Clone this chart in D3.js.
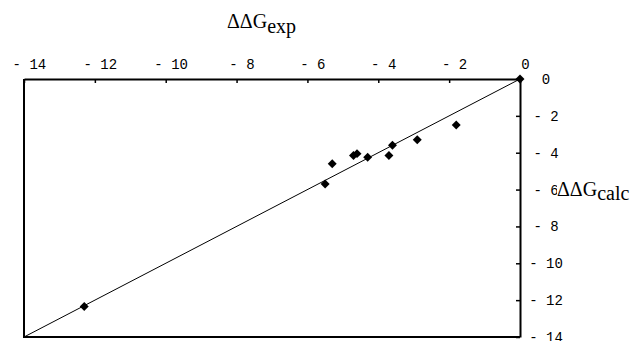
<!DOCTYPE html>
<html lang="en">
<head>
    <meta charset="UTF-8">
    <title>ddG calc vs exp</title>
    <style>
        body, html {
            margin: 0;
            background-color: #fff;
        }
        svg { display: block; }
        .tick text { font-family: "Liberation Mono", monospace; font-size: 14px; fill: #000; }
        .ttl { font-family: "Liberation Serif", "Times New Roman", serif; font-size: 20px; fill: #000; }
    </style>
</head>
<body>
    <script src="https://d3js.org/d3.v7.min.js"></script>
    <script>
        var width = 633,
            height = 341;

        // values
        var expValues  = [0, -1.8, -2.9, -3.6, -3.7, -4.3, -4.6, -4.7, -5.3, -5.5, -12.3];
        var calcValues = [0, -2.5, -3.3, -3.6, -4.15, -4.25, -4.05, -4.15, -4.6, -5.7, -12.35];
        var xTicks = [-14, -12, -10, -8, -6, -4, -2, 0];
        var yTicks = [0, -2, -4, -6, -8, -10, -12, -14];

        var svg = d3.select("body").append("svg")
            .attr("width", width)
            .attr("height", height);

        var x = d3.scaleLinear().domain([-14, 0]).range([24, 520]);
        var y = d3.scaleLinear().domain([0, -14]).range([79, 337]);

        var fmt = function(d) { return d === 0 ? "0" : "- " + Math.abs(d); };

        // frame (left + bottom)
        svg.append("path")
            .attr("d", "M" + x(-14) + "," + y(0) + "V" + y(-14) + "H" + x(0))
            .attr("fill", "none")
            .attr("stroke", "#000")
            .attr("stroke-width", 2);

        // top axis, ticks inward
        var gx = svg.append("g")
            .attr("transform", "translate(0," + y(0) + ")")
            .call(d3.axisTop(x).tickValues(xTicks).tickFormat(fmt).tickSize(-4).tickSizeOuter(0).tickPadding(10));
        gx.select(".domain").attr("stroke-width", 2);
        gx.selectAll(".tick line").attr("stroke-width", 1.5);
        gx.selectAll(".tick text").attr("dx", "0.35em");

        // right axis, ticks inward
        var gy = svg.append("g")
            .attr("transform", "translate(" + x(0) + ",0)")
            .call(d3.axisRight(y).tickValues(yTicks).tickFormat(fmt).tickSize(-4).tickSizeOuter(0));
        gy.select(".domain").attr("stroke-width", 2);
        gy.selectAll(".tick line").attr("stroke-width", 1.5);
        gy.selectAll(".tick text").attr("x", 26).attr("text-anchor", "middle");

        // diagonal y = x
        svg.append("line")
            .attr("x1", x(-14)).attr("y1", y(-14))
            .attr("x2", x(0)).attr("y2", y(0))
            .attr("stroke", "#000")
            .attr("stroke-width", 1);

        // points
        var pts = expValues.map(function(v, i) { return [v, calcValues[i]]; });
        svg.selectAll("path.pt")
            .data(pts)
            .enter()
            .append("path")
            .attr("class", "pt")
            .attr("d", d3.symbol().type(d3.symbolSquare).size(40))
            .attr("transform", function(d) { return "translate(" + x(d[0]) + "," + y(d[1]) + ") rotate(45)"; })
            .attr("fill", "#000");

        // titles
        var t1 = svg.append("text").attr("class", "ttl").attr("x", 227).attr("y", 28);
        t1.append("tspan").text("ΔΔG");
        t1.append("tspan").attr("dy", 5).text("exp");

        svg.append("rect")
            .attr("x", 557).attr("y", 183).attr("width", 76).attr("height", 24)
            .attr("fill", "#fff");
        var t2 = svg.append("text").attr("class", "ttl").attr("x", 557).attr("y", 196);
        t2.append("tspan").text("ΔΔG");
        t2.append("tspan").attr("dy", 4).text("calc");
    </script>
</body>
</html>
